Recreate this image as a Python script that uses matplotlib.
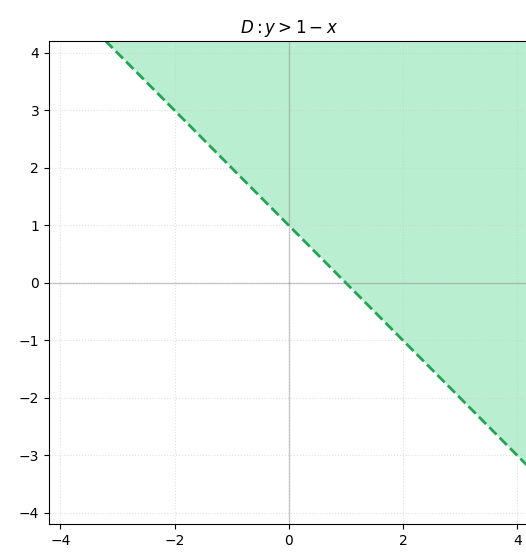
import matplotlib
matplotlib.use("Agg")
import matplotlib.pyplot as plt
import numpy as np

# region D : y > 1 - x
title = r"$D: y > 1 - x$"
boundary_x = [-4.2, 4.2]
boundary_y = [5.2, -3.2]
x_limits = (-4.2, 4.2)
y_limits = (-4.2, 4.2)
ticks = [-4, -2, 0, 2, 4]
y_ticks = [-4, -3, -2, -1, 0, 1, 2, 3, 4]

fig = plt.figure(figsize=(5.26, 5.52), dpi=100)
ax = fig.add_axes([0.093, 0.05, 0.912, 0.875])

# shaded half-plane above the line
ax.fill_between(boundary_x, boundary_y, y_limits[1], color="#2ecc71", alpha=0.33, linewidth=0)
ax.plot(boundary_x, boundary_y, color="#23a455", linestyle="--", linewidth=2)

ax.axhline(0, color="gray", linewidth=1, alpha=0.4)
ax.axvline(0, color="gray", linewidth=1, alpha=0.4)

ax.set_xlim(*x_limits)
ax.set_ylim(*y_limits)
ax.set_xticks(ticks)
ax.set_yticks(y_ticks)
ax.grid(True, linestyle=":", color="#cccccc", alpha=0.6)
ax.set_title(title, fontsize=12)

fig.savefig("out.png", dpi=100)
